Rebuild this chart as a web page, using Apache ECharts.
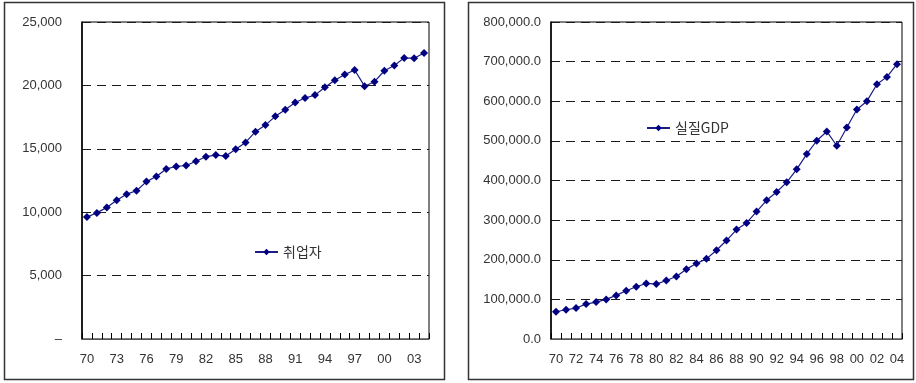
<!DOCTYPE html>
<html>
<head>
<meta charset="utf-8">
<script src="https://cdn.jsdelivr.net/npm/echarts@6/dist/echarts.min.js"></script>
<style>
  html, body { margin: 0; padding: 0; background: #fff; }
  #chart { width: 916px; height: 383px; }
</style>
</head>
<body>
<div id="chart"></div>
<script>
// 연도 (1970 ~ 2004)
var years = ['70','71','72','73','74','75','76','77','78','79',
             '80','81','82','83','84','85','86','87','88','89',
             '90','91','92','93','94','95','96','97','98','99',
             '00','01','02','03','04'];

// 취업자 (천명)
var employed = [9617, 9946, 10379, 10942, 11421, 11692, 12412, 12812, 13412, 13602,
                13683, 14023, 14379, 14505, 14429, 14970, 15505, 16354, 16869, 17560,
                18085, 18649, 19009, 19234, 19848, 20414, 20853, 21214, 19938, 20291,
                21156, 21572, 22169, 22139, 22557];

// 실질GDP (십억원)
var realGdp = [68800, 73900, 78100, 88100, 93200, 99900, 110000, 121700, 131800, 140200,
               138500, 147700, 157800, 176300, 190600, 202300, 224100, 248500, 276200, 293000,
               321500, 350100, 371000, 395400, 428100, 466700, 500300, 523800, 487700, 533900,
               579200, 600200, 643000, 661500, 693400];

var chart = echarts.init(document.getElementById('chart'));

var lineColor = '#1c1c84';
var dotColor = '#000080';
var txt = '#333';
var font = '"Liberation Sans", Arial, sans-serif';

function comma(v) {
  return String(v).replace(/\B(?=(\d{3})+(?!\d))/g, ',');
}

function xAxisOf(idx, interval) {
  return {
    type: 'category',
    gridIndex: idx,
    data: years,
    axisTick: { show: true, inside: true, interval: 0, length: 6, lineStyle: { color: '#000', width: 1 } },
    axisLabel: { interval: interval, color: txt, fontSize: 13, fontFamily: font, margin: 14 }
  };
}

function splitDash() {
  return { show: true, lineStyle: { color: '#1a1a1a', type: [9, 6], width: 1 } };
}

chart.setOption({
  animation: false,
  graphic: [
    { type: 'rect', shape: { x: 4.5, y: 2.5, width: 440, height: 377 },
      style: { fill: 'none', stroke: '#333', lineWidth: 1.5 } },
    { type: 'rect', shape: { x: 468.5, y: 2.5, width: 445, height: 377 },
      style: { fill: 'none', stroke: '#333', lineWidth: 1.5 } }
  ],
  legend: [
    { data: ['취업자'], left: 249, top: 240, itemWidth: 23, itemHeight: 8, itemGap: 4,
      textStyle: { color: txt, fontSize: 14, fontFamily: '"Noto Sans CJK KR"' } },
    { data: ['실질GDP'], left: 641, top: 116, itemWidth: 23, itemHeight: 8, itemGap: 4,
      textStyle: { color: txt, fontSize: 14, fontFamily: '"Noto Sans CJK KR"' } }
  ],
  grid: [
    { left: 82, right: 487, top: 22, bottom: 44, show: true, borderColor: '#000', borderWidth: 1 },
    { left: 551, right: 14, top: 22, bottom: 44, show: true, borderColor: '#000', borderWidth: 1 }
  ],
  xAxis: [xAxisOf(0, 2), xAxisOf(1, 1)],
  yAxis: [
    {
      type: 'value', gridIndex: 0, min: 0, max: 25000, interval: 5000,
      axisLine: { show: true, lineStyle: { color: '#000', width: 1.5 } },
      axisTick: { show: false },
      axisLabel: { color: txt, fontSize: 13, fontFamily: font, margin: 20,
        formatter: function (v) { return v === 0 ? '–' : comma(v); } },
      splitLine: splitDash()
    },
    {
      type: 'value', gridIndex: 1, min: 0, max: 800000, interval: 100000,
      axisLine: { show: true, lineStyle: { color: '#000', width: 1.5 } },
      axisTick: { show: false },
      axisLabel: { color: txt, fontSize: 13, fontFamily: font, margin: 10,
        formatter: function (v) { return comma(v) + '.0'; } },
      splitLine: splitDash()
    }
  ],
  series: [
    {
      name: '취업자', type: 'line', xAxisIndex: 0, yAxisIndex: 0,
      data: employed, symbol: 'diamond', symbolSize: 8, showAllSymbol: true,
      lineStyle: { color: lineColor, width: 1.2 },
      itemStyle: { color: dotColor }
    },
    {
      name: '실질GDP', type: 'line', xAxisIndex: 1, yAxisIndex: 1,
      data: realGdp, symbol: 'diamond', symbolSize: 8, showAllSymbol: true,
      lineStyle: { color: lineColor, width: 1.2 },
      itemStyle: { color: dotColor }
    }
  ]
});
</script>
</body>
</html>
